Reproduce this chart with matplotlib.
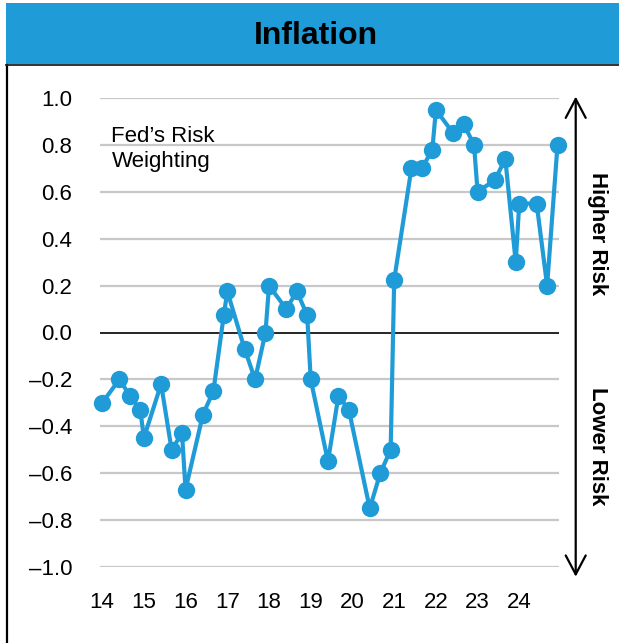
import matplotlib
matplotlib.use("Agg")
import matplotlib.pyplot as plt
from matplotlib.patches import Rectangle
from matplotlib.lines import Line2D
import pandas as pd

plt.rcParams['font.family'] = ['Liberation Sans', 'DejaVu Sans']

# ---------------- data ----------------
title = "Inflation"
series_label = "Fed\u2019s Risk\nWeighting"
dates = ["2014-01", "2014-06", "2014-09", "2014-12",
         "2015-01", "2015-06", "2015-09", "2015-12",
         "2016-01", "2016-06", "2016-09", "2016-12",
         "2017-01", "2017-06", "2017-09", "2017-12",
         "2018-01", "2018-06", "2018-09", "2018-12",
         "2019-01", "2019-06", "2019-09", "2019-12",
         "2020-06", "2020-09", "2020-12",
         "2021-01", "2021-06", "2021-09", "2021-12",
         "2022-01", "2022-06", "2022-09", "2022-12",
         "2023-01", "2023-06", "2023-09", "2023-12",
         "2024-01", "2024-06", "2024-09", "2024-12"]
values = [-0.30, -0.20, -0.27, -0.33,
          -0.45, -0.22, -0.50, -0.43,
          -0.67, -0.35, -0.25, 0.075,
          0.175, -0.07, -0.20, 0.0,
          0.20, 0.10, 0.175, 0.075,
          -0.20, -0.55, -0.27, -0.33,
          -0.75, -0.60, -0.50,
          0.225, 0.70, 0.70, 0.78,
          0.95, 0.85, 0.89, 0.80,
          0.60, 0.65, 0.74, 0.30,
          0.55, 0.55, 0.20, 0.80]
xtick_years = [2014, 2015, 2016, 2017, 2018, 2019, 2020, 2021, 2022, 2023, 2024]
xtick_labels = ["14", "15", "16", "17", "18", "19", "20", "21", "22", "23", "24"]
yticks = [-1.0, -0.8, -0.6, -0.4, -0.2, 0.0, 0.2, 0.4, 0.6, 0.8, 1.0]
ytick_labels = ["\u20131.0", "\u20130.8", "\u20130.6", "\u20130.4", "\u20130.2",
                "0.0", "0.2", "0.4", "0.6", "0.8", "1.0"]
upper_label = "Higher Risk"
lower_label = "Lower Risk"

# ---------------- style ----------------
BLUE = "#1F9BD7"
W, H = 619, 643
fig = plt.figure(figsize=(W / 100, H / 100), dpi=100)

# header band
fig.patches.append(Rectangle((6 / W, 1 - 64 / H), (W - 6) / W, 61 / H,
                             transform=fig.transFigure, facecolor=BLUE,
                             edgecolor="none", zorder=0))
fig.text(316 / W, 1 - 35.5 / H, title, ha="center", va="center",
         fontsize=23, fontweight="bold", color="black")
# frame lines (left + top under header)
fig.lines.append(Line2D([7 / W, 7 / W], [1 - 65 / H, 0], transform=fig.transFigure,
                        color="black", lw=1.6))
fig.lines.append(Line2D([6 / W, 1], [1 - 65 / H, 1 - 65 / H], transform=fig.transFigure,
                        color="#222222", lw=1.3))

left, right, top, bottom = 100, 559, 98, 567
ax = fig.add_axes([left / W, 1 - bottom / H, (right - left) / W, (bottom - top) / H])

x = pd.to_datetime(dates)
ax.plot(x, values, color=BLUE, lw=3.0, marker="o", markersize=12.5,
        markeredgewidth=0, zorder=5, clip_on=False)

ax.set_ylim(-1.0, 1.0)
ax.set_xlim(pd.Timestamp("2013-12-13"), pd.Timestamp("2024-12-14"))
ax.set_yticks(yticks)
ax.set_yticklabels(ytick_labels)
ax.set_xticks(pd.to_datetime([f"{y}-01-01" for y in xtick_years]))
ax.set_xticklabels(xtick_labels)
ax.tick_params(axis="y", length=0, pad=20, labelsize=16)
ax.tick_params(axis="x", length=0, pad=18, labelsize=16)
for s in ax.spines.values():
    s.set_visible(False)
for yv in yticks:
    if yv != 0.0:
        ax.axhline(yv, color="#C8C8C8", lw=1.6, zorder=1)
ax.axhline(0.0, color="black", lw=1.2, zorder=2)

ax.text(0.025, 0.94, series_label, transform=ax.transAxes, ha="left", va="top",
        fontsize=16, linespacing=1.25)

# risk arrow on the right
ax.annotate("", xy=(1.0364, 1.003), xytext=(1.0364, -0.0207),
            xycoords="axes fraction", textcoords="axes fraction",
            arrowprops=dict(arrowstyle="<->,head_length=0.85,head_width=0.45",
                            mutation_scale=16, color="black", lw=1.6,
                            shrinkA=0, shrinkB=0), annotation_clip=False)
ax.text(1.0834, 0.7115, upper_label, transform=ax.transAxes, rotation=270,
        ha="center", va="center", fontsize=16, fontweight="bold")
ax.text(1.0834, 0.2584, lower_label, transform=ax.transAxes, rotation=270,
        ha="center", va="center", fontsize=16, fontweight="bold")

fig.savefig("out.png", dpi=100)
